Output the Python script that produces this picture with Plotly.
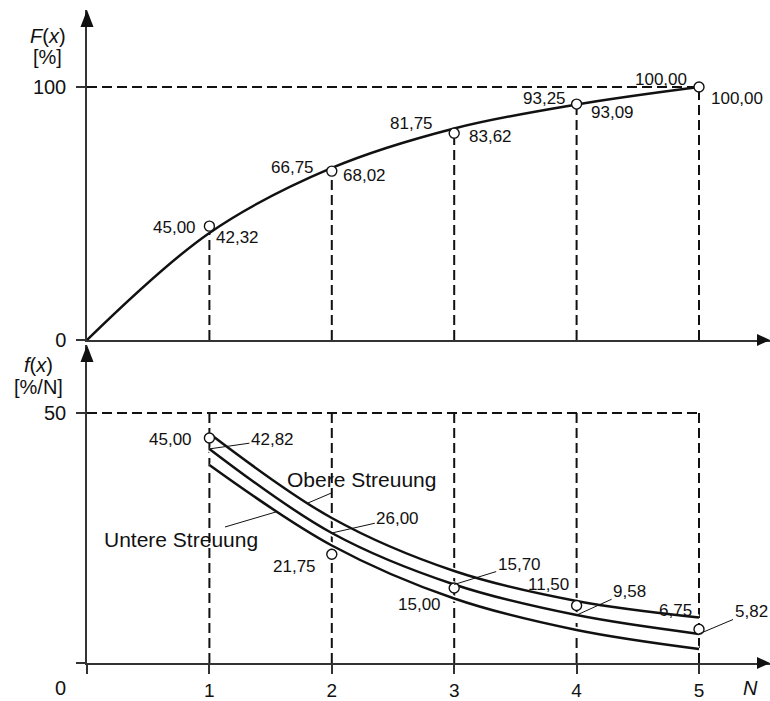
import numpy as np
import plotly.graph_objects as go

# ---------------------------------------------------------------- data
N_VALUES = [1, 2, 3, 4, 5]

# Summenhäufigkeit F(x): Messpunkte und ausgeglichene Kurve
F_MEASURED = [45.00, 66.75, 81.75, 93.25, 100.00]
F_CURVE_X = [0, 1, 2, 3, 4, 5]
F_CURVE = [0.00, 42.32, 68.02, 83.62, 93.09, 100.00]

# Häufigkeitsdichte f(x): Messpunkte, ausgeglichene Kurve, Streuband
DENS_MEASURED = [45.00, 21.75, 15.00, 11.50, 6.75]
DENS_CURVE = [42.82, 26.00, 15.70, 9.58, 5.82]
DENS_UPPER = [45.9, 29.0, 18.4, 12.4, 9.1]
DENS_LOWER = [39.6, 23.5, 12.9, 6.6, 2.8]

X_TICKS = [0, 1, 2, 3, 4, 5]
X_TICK_TEXT = ["", "1", "2", "3", "4", "5"]
F_TICKS = [0, 100]
F_TICK_TEXT = ["0", "100"]
DENS_TICKS = [0, 50]
DENS_TICK_TEXT = ["", "50"]
F_LIMIT = 100
DENS_LIMIT = 50

# ------------------------------------------------------------ geometry
W, H = 770, 701
LEFT = 87
PX_PER_N = 122.4
X_MAX = (W - LEFT) / PX_PER_N

TOP_ZERO, TOP_SCALE, TOP_TIP = 340, 2.53, 10      # pixel rows / px per %
BOT_ZERO, BOT_SCALE, BOT_TIP = 663, 5.0, 345

INK = "#111111"
AXIS = "#333333"
FONT = "Liberation Sans, Arial, Helvetica, sans-serif"


def paper_x(px):
    return (px - LEFT) / (W - LEFT)


def paper_y(py):
    return 1 - py / H


def de(v):
    return f"{v:.2f}".replace(".", ",")


def spline_value(xs, ys, xq, sx, sy, smoothing=1.0):
    """y of plotly's 'spline' line shape at xq (evaluated in pixel space)."""
    pts = np.column_stack([np.asarray(xs, float) * sx, -np.asarray(ys, float) * sy])

    def tangent(p0, p1, p2):
        d1 = p0 - p1
        d2 = p2 - p1
        a1 = np.hypot(*d1) ** 0.5
        a2 = np.hypot(*d2) ** 0.5
        num = (a2 * a2 * d1 - a1 * a1 * d2) * smoothing
        den1 = 3 * a2 * (a1 + a2)
        den2 = 3 * a1 * (a1 + a2)
        return p1 + num / den1, p1 - num / den2

    tans = [tangent(pts[i - 1], pts[i], pts[i + 1]) for i in range(1, len(pts) - 1)]
    t = np.linspace(0, 1, 400)[:, None]
    segs = [(1 - t) ** 2 * pts[0] + 2 * (1 - t) * t * tans[0][0] + t ** 2 * pts[1]]
    for i in range(2, len(pts) - 1):
        c1, c2 = tans[i - 2][1], tans[i - 1][0]
        segs.append((1 - t) ** 3 * pts[i - 1] + 3 * (1 - t) ** 2 * t * c1
                    + 3 * (1 - t) * t ** 2 * c2 + t ** 3 * pts[i])
    segs.append((1 - t) ** 2 * pts[-2] + 2 * (1 - t) * t * tans[-1][1] + t ** 2 * pts[-1])
    curve = np.vstack(segs)
    yq = np.interp(xq * sx, curve[:, 0], curve[:, 1])
    return -yq / sy


def verticals(xs, y_from, y_to):
    vx, vy = [], []
    for x, a, b in zip(xs, y_from, y_to):
        vx += [x, x, None]
        vy += [a, b, None]
    return vx, vy


fig = go.Figure()
dash = dict(color=INK, width=2, dash="10px,5px")

# ---------------------------------------------------------- upper panel
vx, vy = verticals(N_VALUES, [0] * 5, F_CURVE[1:])
fig.add_trace(go.Scatter(x=vx, y=vy, mode="lines", line=dash, xaxis="x", yaxis="y",
                         hoverinfo="skip"))
fig.add_trace(go.Scatter(x=[0, N_VALUES[-1]], y=[F_LIMIT, F_LIMIT], mode="lines", line=dash,
                         xaxis="x", yaxis="y", hoverinfo="skip"))
fig.add_trace(go.Scatter(x=F_CURVE_X, y=F_CURVE, mode="lines",
                         line=dict(color=INK, width=2.5, shape="spline"),
                         xaxis="x", yaxis="y", cliponaxis=False))
fig.add_trace(go.Scatter(x=N_VALUES, y=F_MEASURED, mode="markers",
                         marker=dict(symbol="circle", size=10, color="white",
                                     line=dict(color=INK, width=1.4)),
                         xaxis="x", yaxis="y", cliponaxis=False))

# ---------------------------------------------------------- lower panel
vx, vy = verticals(N_VALUES, [0] * 5, [DENS_LIMIT] * 5)
fig.add_trace(go.Scatter(x=vx, y=vy, mode="lines", line=dash, xaxis="x2", yaxis="y2",
                         hoverinfo="skip"))
fig.add_trace(go.Scatter(x=[0, N_VALUES[-1]], y=[DENS_LIMIT, DENS_LIMIT], mode="lines",
                         line=dash, xaxis="x2", yaxis="y2", hoverinfo="skip"))
for series in (DENS_UPPER, DENS_CURVE, DENS_LOWER):
    fig.add_trace(go.Scatter(x=N_VALUES, y=series, mode="lines",
                             line=dict(color="white", width=6, shape="spline"),
                             xaxis="x2", yaxis="y2", hoverinfo="skip"))
    fig.add_trace(go.Scatter(x=N_VALUES, y=series, mode="lines",
                             line=dict(color=INK, width=2.5, shape="spline"),
                             xaxis="x2", yaxis="y2"))
fig.add_trace(go.Scatter(x=N_VALUES, y=DENS_MEASURED, mode="markers",
                         marker=dict(symbol="circle", size=10, color="white",
                                     line=dict(color=INK, width=1.4)),
                         xaxis="x2", yaxis="y2", cliponaxis=False))

# ---------------------------------------------------------- annotations
ann = []
lab = dict(size=17, color=INK)

# F(x): measured values left of the point, curve values right of it
f_left = [(-11, -1), (-16, 4), (-19, 10), (-9, 6), (-10, 7)]
f_right = [(5, -5), (9, -8), (13, -8), (12, -8), (10, -12)]
for n, v, (dx, dy) in zip(N_VALUES, F_MEASURED, f_left):
    ann.append(dict(x=n, y=v, xref="x", yref="y", text=de(v), showarrow=False,
                    xanchor="right", yanchor="middle", xshift=dx, yshift=dy, font=lab))
for n, v, (dx, dy) in zip(N_VALUES, F_CURVE[1:], f_right):
    ann.append(dict(x=n, y=v, xref="x", yref="y", text=de(v), showarrow=False,
                    xanchor="left", yanchor="middle", xshift=dx, yshift=dy, font=lab))

# f(x): measured values left, curve values with leader lines
d_left = [(-15, -1), (-14, -12), (-11, -16), (-6, 21), (-5, 19)]
d_lead = [(63, -9), (66, -15), (65, -20), (53, -24), (52, -22)]
for n, v, (dx, dy) in zip(N_VALUES, DENS_MEASURED, d_left):
    ann.append(dict(x=n, y=v, xref="x2", yref="y2", text=de(v), showarrow=False,
                    xanchor="right", yanchor="middle", xshift=dx, yshift=dy, font=lab))
for n, v, (ax, ay) in zip(N_VALUES, DENS_CURVE, d_lead):
    ann.append(dict(x=n, y=v, xref="x2", yref="y2", text=de(v), showarrow=True,
                    arrowhead=0, arrowwidth=1, arrowcolor=INK, ax=ax, ay=ay,
                    standoff=0, font=lab))

# scatter band labels, leader drawn to a point on the band edge
for text, series, xq, (lx, ly) in (("Obere Streuung", DENS_UPPER, 1.80, (362, 480)),
                                   ("Untere Streuung", DENS_LOWER, 1.55, (181, 540))):
    yq = spline_value(N_VALUES, series, xq, PX_PER_N, BOT_SCALE)
    px = LEFT + xq * PX_PER_N
    py = BOT_ZERO - yq * BOT_SCALE
    ann.append(dict(x=xq, y=yq, xref="x2", yref="y2", text=text, showarrow=True,
                    arrowhead=0, arrowwidth=1, arrowcolor=INK, ax=lx - px, ay=ly - py,
                    standoff=0, font=dict(size=21, color=INK)))

# axis titles and origin / N labels
title_font = dict(size=20, color=INK)
for text, (cx, cy) in (("<i>F</i>(<i>x</i>)", (48, 36)), ("[%]", (47, 57)),
                       ("<i>f</i>(<i>x</i>)", (38, 365)), ("[%/N]", (38, 387)),
                       ("0", (60, 688)), ("<i>N</i>", (750, 688))):
    ann.append(dict(x=paper_x(cx), y=paper_y(cy), xref="paper", yref="paper", text=text,
                    showarrow=False, xanchor="center", yanchor="middle", font=title_font))

# ---------------------------------------------------------- arrow heads
def tri(p1, p2, p3):
    pts = [p1, p2, p3]
    return "M " + " L ".join(f"{paper_x(a):.5f},{paper_y(b):.5f}" for a, b in pts) + " Z"

shapes = []
for path in (tri((LEFT, TOP_TIP), (LEFT - 6.5, TOP_TIP + 17), (LEFT + 6.5, TOP_TIP + 17)),
             tri((LEFT, BOT_TIP), (LEFT - 6.5, BOT_TIP + 17), (LEFT + 6.5, BOT_TIP + 17)),
             tri((W, TOP_ZERO), (W - 13, TOP_ZERO - 6), (W - 13, TOP_ZERO + 6)),
             tri((W, BOT_ZERO), (W - 13, BOT_ZERO - 6), (W - 13, BOT_ZERO + 6))):
    shapes.append(dict(type="path", path=path, xref="paper", yref="paper",
                       fillcolor=INK, line=dict(width=0)))

# ---------------------------------------------------------- layout
line_style = dict(showline=True, linecolor=AXIS, linewidth=1.5, showgrid=False,
                  zeroline=False, fixedrange=True, automargin=False)
tick_base = dict(ticks="outside", ticklen=9, tickwidth=1.5, tickcolor=AXIS)

fig.update_layout(
    width=W, height=H,
    margin=dict(l=LEFT, r=0, t=0, b=0, autoexpand=False),
    paper_bgcolor="white", plot_bgcolor="white",
    showlegend=False,
    font=dict(family=FONT, color=INK),
    xaxis=dict(domain=[0, 1], anchor="y", range=[0, X_MAX], showticklabels=False,
               ticks="", **line_style),
    yaxis=dict(domain=[paper_y(TOP_ZERO), paper_y(TOP_TIP)], anchor="x",
               range=[0, (TOP_ZERO - TOP_TIP) / TOP_SCALE],
               tickmode="array", tickvals=F_TICKS, ticktext=F_TICK_TEXT,
               tickfont=dict(size=20, color=INK), ticklabelstandoff=6,
               **tick_base, **line_style),
    xaxis2=dict(domain=[0, 1], anchor="y2", range=[0, X_MAX],
                tickmode="array", tickvals=X_TICKS, ticktext=X_TICK_TEXT,
                tickfont=dict(size=19, color=INK), ticklabelstandoff=0,
                **tick_base, **line_style),
    yaxis2=dict(domain=[paper_y(BOT_ZERO), paper_y(BOT_TIP)], anchor="x2",
                range=[0, (BOT_ZERO - BOT_TIP) / BOT_SCALE],
                tickmode="array", tickvals=DENS_TICKS, ticktext=DENS_TICK_TEXT,
                tickfont=dict(size=20, color=INK), ticklabelstandoff=6,
                **tick_base, **line_style),
    annotations=ann,
    shapes=shapes,
)

fig.write_html("out.html")
